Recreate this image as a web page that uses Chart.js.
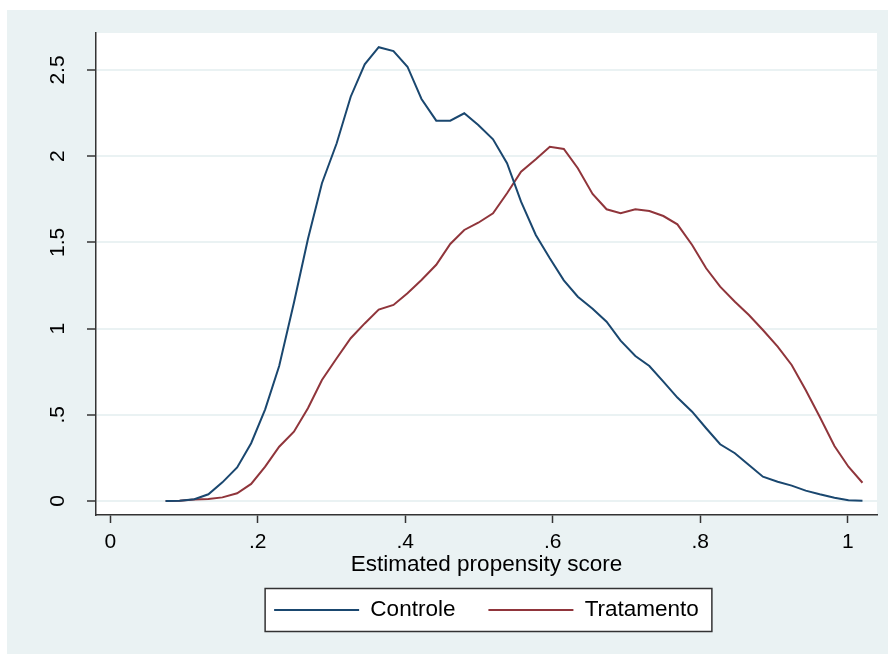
<!DOCTYPE html>
<html>
<head>
<meta charset="utf-8">
<script src="https://cdn.jsdelivr.net/npm/chart.js@4.4.0/dist/chart.umd.min.js"></script>
<style>
  html, body { margin: 0; padding: 0; background: #fff; }
  #wrap { position: absolute; left: 7px; top: 10px; width: 881px; height: 644px; background: #EAF2F3; }
</style>
</head>
<body>
<div id="wrap"><canvas id="chart" width="881" height="644"></canvas></div>
<script>
// kdensity evaluation points (propensity score)
const scoreGrid = [
  0.075, 0.094, 0.114, 0.133, 0.152, 0.172, 0.191, 0.210, 0.229, 0.249,
  0.268, 0.287, 0.307, 0.326, 0.345, 0.364, 0.384, 0.403, 0.422, 0.442,
  0.461, 0.480, 0.499, 0.519, 0.538, 0.557, 0.577, 0.596, 0.615, 0.634,
  0.654, 0.673, 0.692, 0.712, 0.731, 0.750, 0.769, 0.789, 0.808, 0.827,
  0.847, 0.866, 0.885, 0.905, 0.924, 0.943, 0.962, 0.982, 1.001, 1.020
];
const controle = [
  0.000, 0.002, 0.010, 0.039, 0.108, 0.195, 0.335, 0.532, 0.783, 1.150,
  1.520, 1.843, 2.075, 2.345, 2.533, 2.632, 2.610, 2.519, 2.332, 2.206,
  2.206, 2.249, 2.181, 2.098, 1.959, 1.736, 1.543, 1.408, 1.280, 1.185,
  1.115, 1.040, 0.930, 0.841, 0.783, 0.692, 0.600, 0.518, 0.422, 0.329,
  0.277, 0.209, 0.141, 0.112, 0.089, 0.060, 0.039, 0.019, 0.004, 0.002
];
const tratamento = [
  0.000, 0.002, 0.008, 0.012, 0.021, 0.045, 0.099, 0.199, 0.315, 0.402,
  0.538, 0.702, 0.828, 0.944, 1.030, 1.110, 1.137, 1.205, 1.282, 1.370,
  1.491, 1.572, 1.614, 1.669, 1.785, 1.910, 1.982, 2.055, 2.042, 1.930,
  1.781, 1.692, 1.669, 1.692, 1.682, 1.653, 1.605, 1.485, 1.350, 1.243,
  1.156, 1.079, 0.992, 0.895, 0.789, 0.644, 0.489, 0.319, 0.199, 0.106
];
const xTicks = [0, 0.2, 0.4, 0.6, 0.8, 1];
const yTicks = [0, 0.5, 1, 1.5, 2, 2.5];
const xTitle = 'Estimated propensity score';

const navy = '#1A476F';
const maroon = '#90353B';
const axisColor = '#333333';

Chart.defaults.font.family = "'Liberation Sans', Arial, sans-serif";
Chart.defaults.color = '#000';

// estilo Stata: "0", ".2", "1.5"
function stataLabel(v) {
    return String(Number(v.toFixed(2))).replace(/^0\./, '.');
}

// fundo branco da area do grafico + moldura da legenda
const stataFrame = {
    id: 'stataFrame',
    beforeDraw(chart) {
        const ctx = chart.ctx;
        const a = chart.chartArea;
        ctx.save();
        ctx.fillStyle = '#fff';
        ctx.fillRect(a.left, a.top, a.right - a.left, a.bottom - a.top);
        const boxes = chart.legend && chart.legend.legendHitBoxes;
        if (boxes && boxes.length) {
            const first = boxes[0];
            const last = boxes[boxes.length - 1];
            const cy = first.top + first.height / 2;
            const x0 = first.left - 9;
            const x1 = last.left + last.width + 13;
            ctx.fillRect(x0, cy - 21.5, x1 - x0, 43);
            ctx.strokeStyle = axisColor;
            ctx.lineWidth = 1.5;
            ctx.strokeRect(x0, cy - 21.5, x1 - x0, 43);
        }
        ctx.restore();
    }
};

// sem folga extra das etiquetas: a area do grafico fica onde o layout manda
function noLabelPadding(scale) {
    scale.paddingTop = 0;
    scale.paddingBottom = 0;
    scale.paddingLeft = 0;
    scale.paddingRight = 0;
}

const ctx = document.getElementById('chart').getContext('2d');
new Chart(ctx, {
    type: 'line',
    data: {
        datasets: [{
            label: 'Controle',
            data: scoreGrid.map((x, i) => ({x: x, y: controle[i]})),
            borderColor: navy,
            backgroundColor: navy,
            borderWidth: 2,
            pointRadius: 0,
            tension: 0,
            fill: false
        }, {
            label: 'Tratamento',
            data: scoreGrid.map((x, i) => ({x: x, y: tratamento[i]})),
            borderColor: maroon,
            backgroundColor: maroon,
            borderWidth: 2,
            pointRadius: 0,
            tension: 0,
            fill: false
        }]
    },
    options: {
        responsive: false,
        animation: false,
        events: [],
        layout: {
            padding: {left: 0, top: 23, right: 11, bottom: 22.75}
        },
        scales: {
            x: {
                type: 'linear',
                min: -0.0194,
                max: 1.0397,
                afterBuildTicks: scale => { scale.ticks = xTicks.map(v => ({value: v})); },
                afterFit: scale => { scale.height = 50.75; noLabelPadding(scale); },
                border: {display: true, color: axisColor, width: 1.5},
                grid: {
                    drawOnChartArea: false,
                    drawTicks: true,
                    tickLength: 8,
                    tickColor: axisColor,
                    tickWidth: 1.5
                },
                ticks: {
                    autoSkip: false,
                    maxRotation: 0,
                    padding: 6.9,
                    font: {size: 21},
                    color: '#000',
                    callback: v => stataLabel(v)
                },
                title: {
                    display: true,
                    text: xTitle,
                    color: '#000',
                    font: {size: 22.5, lineHeight: 1},
                    padding: {top: 0, bottom: -9.8}
                }
            },
            y: {
                type: 'linear',
                min: -0.0812,
                max: 2.7146,
                afterBuildTicks: scale => { scale.ticks = yTicks.map(v => ({value: v})); },
                afterFit: scale => { scale.width = 89; noLabelPadding(scale); },
                border: {display: true, color: axisColor, width: 1.5},
                grid: {
                    color: '#EAF2F3',
                    lineWidth: 2,
                    drawTicks: true,
                    tickLength: 9,
                    tickColor: axisColor,
                    tickWidth: 1.5
                },
                ticks: {
                    autoSkip: false,
                    minRotation: 90,
                    maxRotation: 90,
                    crossAlign: 'center',
                    padding: 14.4,
                    font: {size: 21},
                    color: '#000',
                    callback: v => stataLabel(v)
                }
            }
        },
        plugins: {
            tooltip: {enabled: false},
            legend: {
                position: 'bottom',
                fullSize: false,
                labels: {
                    boxWidth: 85,
                    boxHeight: 2,
                    padding: 33,
                    color: '#000',
                    font: {size: 22.5},
                    generateLabels: chart => Chart.defaults.plugins.legend.labels.generateLabels(chart)
                        .map(item => Object.assign(item, {fillStyle: item.strokeStyle, lineWidth: 0}))
                }
            }
        }
    },
    plugins: [stataFrame]
});
</script>
</body>
</html>
